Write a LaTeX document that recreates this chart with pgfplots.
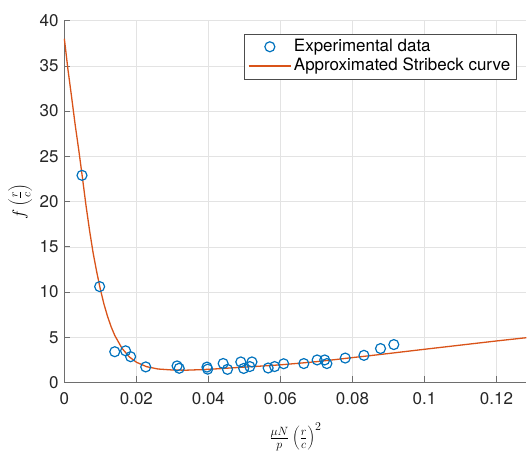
\documentclass[border=0pt]{standalone}
\usepackage{pgfplots}
\pgfplotsset{compat=1.18}
\usepackage{fontspec}
\setmainfont{TeX Gyre Heros}
\definecolor{mblue}{RGB}{0,114,189}
\definecolor{morange}{RGB}{217,83,25}
\definecolor{axgray}{RGB}{110,110,110}
\pgfplotsset{
    markleg/.style={legend image code/.code={\draw[##1, line width=1.2pt] plot coordinates {(0.75cm,0cm)};}},
    lineleg/.style={legend image code/.code={\draw[##1, line width=1.6pt] (0cm,0cm) -- (1.5cm,0cm);}},
}

\begin{document}
\fontsize{17}{20}\selectfont
\begin{tikzpicture}
\begin{axis}[
    scale only axis,
    width=463pt, height=362.6pt,
    xmin=0, xmax=0.1283,
    ymin=0, ymax=40,
    xtick={0,0.02,0.04,0.06,0.08,0.1,0.12},
    xticklabels={0,0.02,0.04,0.06,0.08,0.1,0.12},
    ytick={0,5,...,40},
    axis x line*=bottom, axis y line*=left,
    axis line style={axgray, line width=0.6pt},
    tick style={axgray, line width=0.6pt},
    tick align=inside, major tick length=6pt,
    grid=major, major grid style={gray!22, line width=0.5pt},
    /pgf/number format/assume math mode=true,
    tick label style={font=\fontsize{17}{20}\selectfont, text=black!85},
    xticklabel style={yshift=-4pt},
    xlabel={$\frac{\mu N}{p}\left(\frac{r}{c}\right)^2$},
    ylabel={$f\left(\frac{r}{c}\right)$},
    label style={font=\fontsize{17}{20}\selectfont},
    xlabel style={yshift=-7pt},
    ylabel style={yshift=-4pt},
    clip=false,
    legend cell align=left,
    legend style={at={(1,1)}, anchor=north east, xshift=-10pt, yshift=-13pt,
        draw=black!70, fill=white,
        font=\fontsize{17}{20}\selectfont, inner xsep=4pt, inner ysep=3.5pt,
        row sep=0pt},
]
\path (rel axis cs:-0.1393,-0.1536) rectangle (rel axis cs:1,1.0571);
\addplot[only marks, mark=o, mark size=5pt, mblue, line width=1.2pt, markleg]
coordinates {
(0.0049,22.9) (0.0098,10.6) (0.0140,3.4) (0.0170,3.5) (0.0184,2.85)
(0.0226,1.72) (0.0313,1.83) (0.0319,1.57) (0.0396,1.70) (0.0398,1.47)
(0.0441,2.10) (0.0453,1.45) (0.0490,2.27) (0.0498,1.55) (0.0515,1.76)
(0.0521,2.27) (0.0566,1.60) (0.0584,1.76) (0.0609,2.07) (0.0665,2.09)
(0.0702,2.49) (0.0723,2.49) (0.0729,2.09) (0.0780,2.70) (0.0832,3.00)
(0.0878,3.75) (0.0915,4.19)
};
\addlegendentry{Experimental data}
\addplot[morange, line width=1.3pt, no marks, lineleg]
coordinates {
(0,38.0) (0.001,34.6) (0.002,31.6) (0.003,28.5) (0.004,25.7) (0.005,22.7)
(0.006,19.6) (0.007,16.8) (0.008,14.3) (0.009,12.2) (0.010,10.3)
(0.011,8.66) (0.012,7.30) (0.013,6.15) (0.014,5.20) (0.016,3.78)
(0.018,2.84) (0.020,2.24) (0.0228,1.75) (0.026,1.49) (0.030,1.38)
(0.034,1.36) (0.038,1.42) (0.042,1.50) (0.046,1.60) (0.050,1.70)
(0.055,1.82) (0.060,1.95) (0.065,2.12) (0.070,2.30) (0.075,2.52)
(0.080,2.75) (0.085,2.97) (0.090,3.20) (0.100,3.67) (0.110,4.13)
(0.120,4.59) (0.1283,4.95)
};
\addlegendentry{Approximated Stribeck curve}
\end{axis}
\end{tikzpicture}
\end{document}
